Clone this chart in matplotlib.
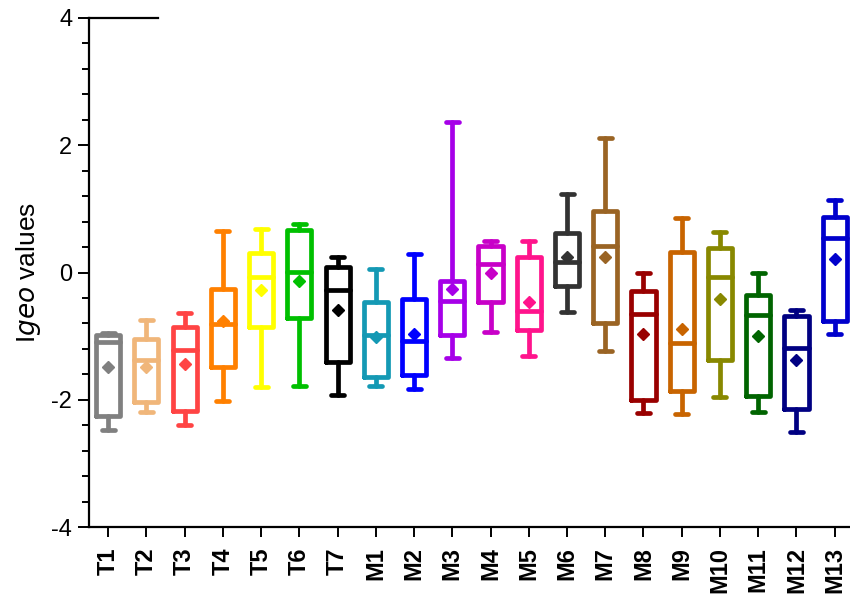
import matplotlib.pyplot as plt
from matplotlib.ticker import MultipleLocator

# box statistics (Igeo values)
sites = ['T1', 'T2', 'T3', 'T4', 'T5', 'T6', 'T7',
         'M1', 'M2', 'M3', 'M4', 'M5', 'M6', 'M7', 'M8', 'M9', 'M10', 'M11', 'M12', 'M13']
whislo = [-2.48, -2.20, -2.39, -2.02, -1.80, -1.78, -1.92,
          -1.78, -1.83, -1.35, -0.94, -1.32, -0.62, -1.23, -2.21, -2.22, -1.95, -2.20, -2.51, -0.97]
q1 = [-2.26, -2.04, -2.18, -1.48, -0.85, -0.72, -1.40,
      -1.64, -1.61, -0.98, -0.47, -0.90, -0.22, -0.79, -2.00, -1.86, -1.38, -1.94, -2.15, -0.76]
med = [-1.09, -1.37, -1.22, -0.81, -0.07, 0.01, -0.28,
       -0.98, -1.07, -0.45, 0.13, -0.60, 0.17, 0.42, -0.66, -1.11, -0.07, -0.67, -1.18, 0.55]
q3 = [-0.99, -1.05, -0.85, -0.26, 0.30, 0.67, 0.08,
      -0.46, -0.42, -0.14, 0.41, 0.25, 0.62, 0.96, -0.29, 0.32, 0.39, -0.36, -0.68, 0.88]
whishi = [-0.95, -0.75, -0.63, 0.65, 0.69, 0.77, 0.25,
          0.05, 0.29, 2.37, 0.50, 0.50, 1.24, 2.12, 0.00, 0.85, 0.64, -0.01, -0.59, 1.14]
means = [-1.48, -1.48, -1.44, -0.77, -0.28, -0.14, -0.59,
         -1.02, -0.97, -0.26, -0.01, -0.46, 0.24, 0.25, -0.97, -0.89, -0.42, -1.00, -1.37, 0.21]
colors = ['#808080', '#F0B67A', '#FF4444', '#FF8000', '#FFFF00', '#00C000', '#000000',
          '#1499B4', '#0000FF', '#A600E8', '#C800C8', '#FF148C', '#333333', '#9A6424',
          '#990000', '#C86400', '#888800', '#006400', '#000082', '#0000CC']

plt.rcParams['font.family'] = ['Liberation Sans', 'DejaVu Sans']
plt.rcParams['axes.unicode_minus'] = False

fig = plt.figure(figsize=(8.5, 5.97), dpi=100)
ax = fig.add_axes([89 / 850, 70 / 597, 1 - 89 / 850, 509 / 597])

stats = []
for i in range(len(sites)):
    stats.append(dict(label=sites[i], whislo=whislo[i], q1=q1[i], med=med[i],
                      q3=q3[i], whishi=whishi[i], mean=means[i], fliers=[]))

lw = 3.4
bp = ax.bxp(stats, positions=range(len(sites)), widths=0.63, capwidths=0.34,
            showmeans=True, showfliers=False, patch_artist=False)

for i, c in enumerate(colors):
    for art in [bp['boxes'][i], bp['medians'][i]] + bp['whiskers'][2 * i:2 * i + 2] + bp['caps'][2 * i:2 * i + 2]:
        art.set_color(c)
        art.set_linewidth(lw)
        art.set_solid_capstyle('round')
        art.set_solid_joinstyle('round')
    m = bp['means'][i]
    m.set_marker('D')
    m.set_markersize(6.3)
    m.set_markerfacecolor(c)
    m.set_markeredgecolor(c)

ax.set_xlim(-0.5, 19.4)
ax.set_ylim(-4, 4)
ax.yaxis.set_major_locator(MultipleLocator(2))
ax.yaxis.set_minor_locator(MultipleLocator(0.4))

ax.spines['top'].set_visible(False)
ax.spines['right'].set_visible(False)
ax.spines['left'].set_linewidth(1.6)
ax.spines['bottom'].set_linewidth(1.6)
# short stub of the top frame line next to the y axis
ax.plot([-0.5, 1.3], [4, 4], color='black', lw=1.6, clip_on=False)

ax.tick_params(axis='y', which='major', length=8, width=1.4, labelsize=17, pad=4)
ax.tick_params(axis='y', which='minor', length=5, width=1.4)
ax.tick_params(axis='x', which='major', length=7.5, width=1.4, labelsize=17, pad=7)
ax.set_xticks(range(len(sites)))
ax.set_xticklabels(sites, rotation=90, fontweight='bold')

ax.set_ylabel('I$\\it{geo}$ values', fontsize=19, labelpad=6)

fig.savefig('out.png', dpi=100)
